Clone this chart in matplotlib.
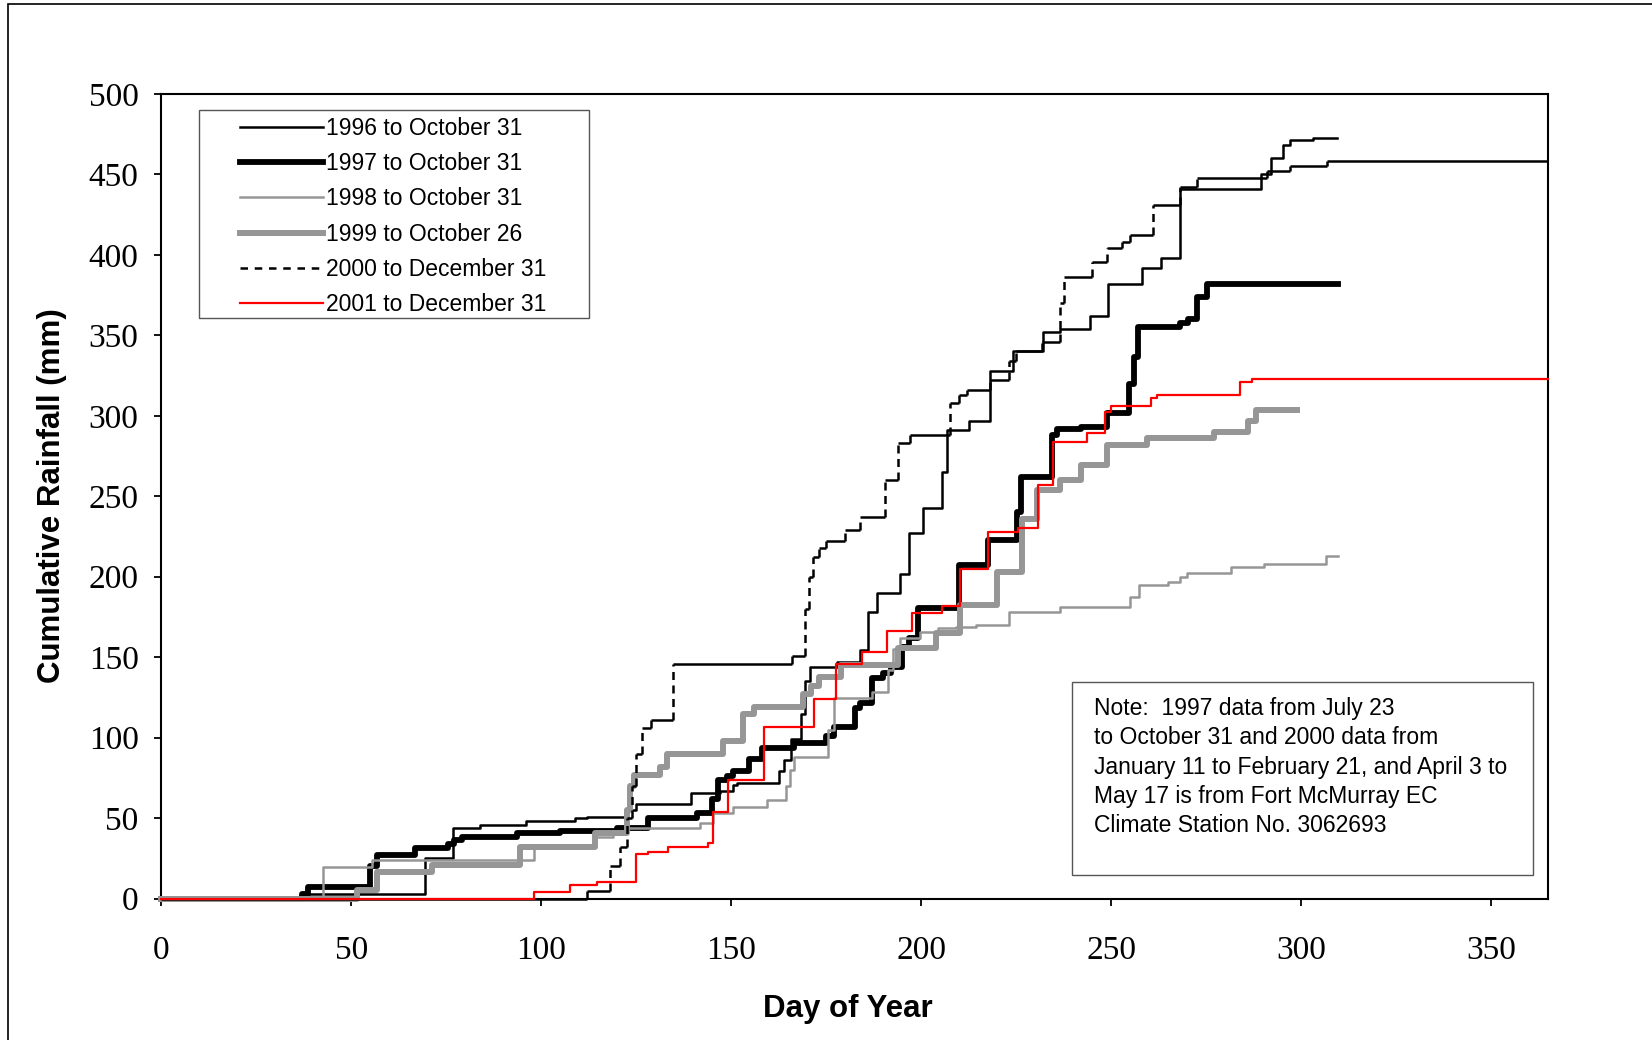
import matplotlib
matplotlib.use('Agg')
import matplotlib.pyplot as plt
from matplotlib.lines import Line2D
from matplotlib.patches import Rectangle

## CUMULATIVE RAINFALL (MM) AS (DAY OF YEAR, TOTAL) STEPS
days_1996 = [0, 38, 69.4, 76.8, 84, 96, 109, 112, 122, 125, 139.5, 147, 150.5, 151.6, 162.5, 163.8,
             165.8, 168.3, 169.5, 170.8, 177.9, 184, 186, 188.5, 194.5, 196.7, 200.6, 205.5, 206.8,
             212.5, 218, 224.3, 232, 236.6, 244.5, 249.3, 258, 263, 268.2, 289.5, 292, 295.2, 297,
             303, 309.4]
rain_1996 = [0, 3, 25, 44, 46, 48, 50, 51, 55, 59, 65.6, 67, 70.6, 72, 79, 86,
             99, 115, 135, 144, 147, 154.5, 178, 190, 202, 227, 243, 265, 291,
             297, 328, 340, 352, 354, 362, 382, 391.6, 398, 441, 450, 460, 468, 471,
             472.5, 472.5]

days_1997 = [0, 37, 38.7, 55, 56.7, 66.8, 75.6, 77, 79.1, 93.6, 105, 119.9, 128, 141, 145, 146.6,
             149, 150.6, 154.8, 158, 166.6, 175, 177, 182.5, 184, 187, 190, 192, 195, 196.7, 199.3,
             210, 217.7, 225.2, 226.3, 234.4, 235.7, 242, 248.8, 254.6, 255.9, 257.2, 268.1, 270.3,
             272.5, 275.2, 309.8]
rain_1997 = [0, 3, 7.5, 20, 27, 31.3, 34, 36.5, 38, 40.6, 42, 44, 50, 53, 62, 73.8,
             76, 79, 87, 93.6, 96.6, 101, 106.8, 118.4, 121.6, 137, 140, 144, 156.5, 162, 180.5,
             207, 222.8, 240, 262, 288, 292, 293, 301.6, 320, 336.6, 355, 357.5, 360,
             374, 382, 382]

days_1998 = [0, 42.7, 55.5, 98, 114, 119, 122.6, 141.8, 145.3, 150.5, 159.5, 164.5, 165.5, 166.6,
             175.6, 177, 187, 191.4, 192.5, 194.5, 199.7, 204.4, 209.2, 214.4, 223.2, 236.6, 255,
             257.3, 265, 268, 270, 281.5, 290.3, 306.5, 309.8]
rain_1998 = [0, 19.9, 24, 33, 38.5, 41.8, 43.9, 47, 53, 57, 61, 70, 80, 88,
             105, 124.6, 128.6, 142, 155, 162, 165.8, 168, 169, 170, 178.3, 181.4, 187.6,
             194.8, 196.7, 200, 202.5, 206, 208, 212.8, 212.8]

days_1999 = [0, 51.5, 56.7, 71.2, 94.4, 114.2, 122.5, 123.5, 124.3, 131.3, 133, 147.9, 153.2, 156,
             169, 171, 173, 179, 194, 204, 210.2, 220, 226.5, 230.5, 236.6, 242, 249, 259.4, 277,
             286, 288, 299]
rain_1999 = [0, 5.4, 16.8, 21, 32.3, 40.6, 55, 70, 77, 82, 90, 98, 115, 119,
             127, 132, 138, 145, 155.7, 165, 182.4, 203, 236, 254, 260, 269.4, 282, 286, 290,
             297, 303.5, 303.5]

days_2000 = [0, 112, 118, 120.8, 122.5, 124, 125, 126.5, 129, 134.8, 166, 169.5, 170.5, 171.5, 173,
             175, 180, 184, 190.5, 194, 197, 207.5, 210, 212, 218, 223, 225, 231.8, 236.5, 237.5,
             245, 249, 252.8, 255, 261, 268.2, 272.6, 291, 297, 306.8, 365]
rain_2000 = [0, 5, 20, 32, 50, 70, 90, 106, 111, 146, 151, 180, 200, 212, 218,
             222, 229, 237, 260, 283, 288, 308, 313, 316, 322, 334, 340, 346, 370, 386,
             395.6, 404, 408, 412, 431, 442, 448, 452, 455, 458, 458]

days_2001 = [0, 98, 107.6, 114.6, 125, 128, 133.5, 144, 145.3, 149.2, 158.7, 171.8, 177.5, 184.5,
             191, 197.7, 205.4, 210.2, 217.7, 225.6, 230.8, 234.8, 243.6, 248.4, 250, 260.5, 262,
             284, 287, 365]
rain_2001 = [0, 4.3, 8.5, 10.6, 28, 29, 32, 34.6, 54, 73.8, 106.5, 124, 146, 153.4,
             166, 177.4, 182, 205, 228, 230, 257, 283.5, 289, 302.5, 306, 311, 313,
             321, 323, 323]

labels = ['1996 to October 31', '1997 to October 31', '1998 to October 31',
          '1999 to October 26', '2000 to December 31', '2001 to December 31']

note = ('Note:  1997 data from July 23\n'
        'to October 31 and 2000 data from\n'
        'January 11 to February 21, and April 3 to\n'
        'May 17 is from Fort McMurray EC\n'
        'Climate Station No. 3062693')

GRAY = '#969696'
plt.rcParams['font.family'] = ['Liberation Sans', 'DejaVu Sans']

fig = plt.figure(figsize=(16.52, 10.40), dpi=100)
ax = fig.add_axes([0.0976, 0.1359, 0.8395, 0.7739])

## SERIES ARE DRAWN ON TOP OF THE AXIS LINE, LIKE IN EXCEL
kw = dict(where='post', zorder=3, clip_on=False)
ax.step(days_1996, rain_1996, color='black', lw=1.8, **kw)
ax.step(days_1997, rain_1997, color='black', lw=4.2, **kw)
ax.step(days_1998, rain_1998, color=GRAY, lw=1.8, **kw)
ax.step(days_1999, rain_1999, color=GRAY, lw=4.3, **kw)

## 2000: FLAT PARTS LOOK SOLID, THE JUMPS ARE DASHED (EXCEL RESTARTS THE DASH EACH DAY)
ax.hlines(rain_2000[:-1], days_2000[:-1], days_2000[1:], colors='black', lw=1.8, zorder=3,
          clip_on=False)
ax.vlines(days_2000[1:-1], rain_2000[:-2], rain_2000[1:-1], colors='black', lw=1.8,
          linestyles=[(0, (3.2, 2.2))], zorder=3)

ax.step(days_2001, rain_2001, color='red', lw=1.6, **kw)

ax.set_xlim(0, 365)
ax.set_ylim(0, 500)
ax.set_xticks(range(0, 351, 50))
ax.set_yticks(range(0, 501, 50))
for s in ax.spines.values():
    s.set_linewidth(1.5)
ax.tick_params(direction='out', length=5.3, width=1.3)
ax.tick_params(axis='x', pad=21.5)
ax.tick_params(axis='y', pad=11)
for lab in ax.get_xticklabels() + ax.get_yticklabels():
    lab.set_fontfamily('Liberation Serif')
    lab.set_fontsize(24)

fig.text(0.5133, 0.0296, 'Day of Year', ha='center', va='center', fontsize=22.5, fontweight='bold')
fig.text(0.0312, 0.523, 'Cumulative Rainfall (mm)', ha='center', va='center', rotation=90,
         fontsize=22.5, fontweight='bold')

## LEGEND: FRAME DRAWN BY HAND, ENTRIES FROM PROXY LINES
ax.add_patch(Rectangle((0.0273, 0.7215), 0.2812, 0.2585, transform=ax.transAxes, fill=False,
                       edgecolor='#555555', lw=1, zorder=5))
handles = [Line2D([], [], color='black', lw=1.8),
           Line2D([], [], color='black', lw=4.2),
           Line2D([], [], color=GRAY, lw=1.8),
           Line2D([], [], color=GRAY, lw=4.3),
           Line2D([], [], color='black', lw=1.8, ls=(0, (3, 2.7))),
           Line2D([], [], color='red', lw=1.6)]
ax.legend(handles, labels, loc='upper left', bbox_to_anchor=(0.0569, 0.971), frameon=False,
          borderpad=0, borderaxespad=0, handlelength=3.6, handletextpad=0.15,
          labelspacing=0.53, fontsize=16.5)

## NOTE BOX
ax.add_patch(Rectangle((0.657, 0.030), 0.332, 0.2396, transform=ax.transAxes, fill=False,
                       edgecolor='#555555', lw=1, zorder=5))
ax.text(0.6723, 0.2502, note, transform=ax.transAxes, ha='left', va='top', fontsize=16.5,
        linespacing=1.345)

## OUTER CHART BORDER
fig.patches.append(Rectangle((0.0051, -0.05), 1.2, 1.046, transform=fig.transFigure,
                             fill=False, edgecolor='black', lw=1.2))

fig.savefig('out.png', dpi=100)
